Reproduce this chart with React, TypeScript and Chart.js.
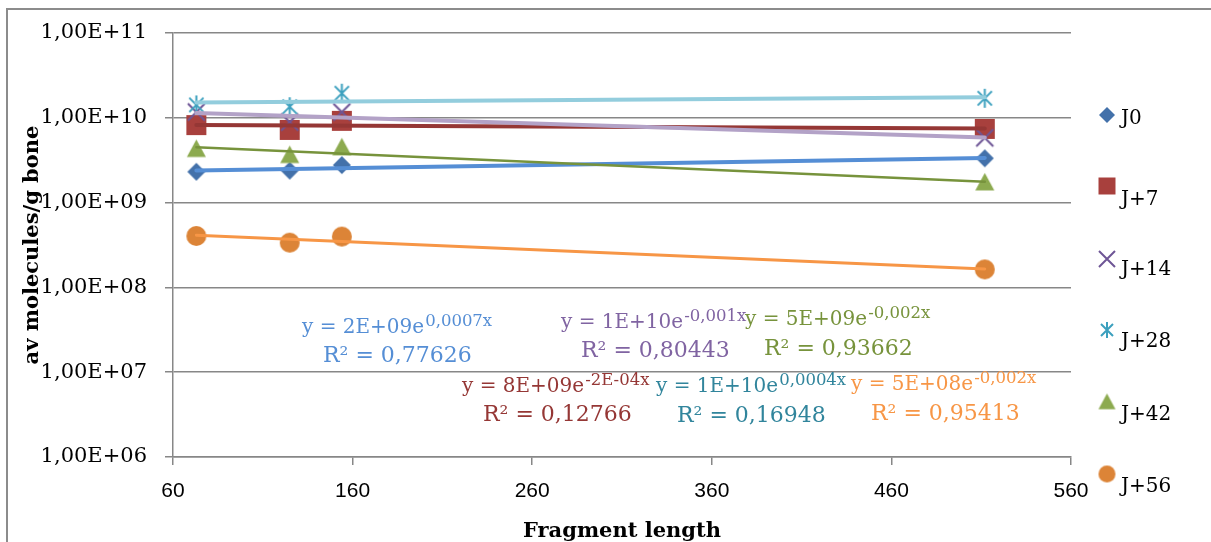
import React, { useEffect, useRef } from 'react';
import { Chart, registerables } from 'chart.js';

Chart.register(...registerables);

// ---------- data ----------
const FRAGMENT_LENGTHS = [73, 125, 154, 512];
const SERIES_NAMES = ['J0', 'J+7', 'J+14', 'J+28', 'J+42', 'J+56'];
const J0_VALUES = [2.31e9, 2.38e9, 2.77e9, 3.33e9];
const J7_VALUES = [8.2e9, 7.2e9, 9.2e9, 7.4e9];
const J14_VALUES = [1.17e10, 8.9e9, 1.17e10, 5.8e9];
const J28_VALUES = [1.42e10, 1.35e10, 1.95e10, 1.7e10];
const J42_VALUES = [4.29e9, 3.64e9, 4.49e9, 1.73e9];
const J56_VALUES = [4.04e8, 3.37e8, 3.97e8, 1.63e8];
const SERIES_VALUES = [J0_VALUES, J7_VALUES, J14_VALUES, J28_VALUES, J42_VALUES, J56_VALUES];

const X_TICKS = [60, 160, 260, 360, 460, 560];
const Y_TICKS = [1e6, 1e7, 1e8, 1e9, 1e10, 1e11];

const EQ_BASE = ['y = 2E+09e', 'y = 8E+09e', 'y = 1E+10e', 'y = 1E+10e', 'y = 5E+09e', 'y = 5E+08e'];
const EQ_EXP = ['0,0007x', '-2E-04x', '-0,001x', '0,0004x', '-0,002x', '-0,002x'];
const R2_TEXT = ['R² = 0,77626', 'R² = 0,12766', 'R² = 0,80443', 'R² = 0,16948', 'R² = 0,93662', 'R² = 0,95413'];

const X_TITLE = 'Fragment length';
const Y_TITLE = 'av molecules/g bone';

// ---------- styles ----------
const MARKER_KIND = ['diamond', 'square', 'cross', 'star', 'triangle', 'circle'];
const MARKER_COLOR = ['#4371AA', '#A8403D', '#6E5596', '#3CA0BE', '#8CAA4F', '#DC8437'];
const MARKER_SIZE = [18, 20, 17, 19, 19, 20];
const LEGEND_MARKER_SIZE = [16, 17, 16, 16, 17, 17];
const TREND_COLOR = ['#558ED5', '#953735', '#B3A2C7', '#93CDDD', '#77933C', '#F79646'];
const TREND_WIDTH = [4, 4, 4, 4, 2.5, 3];
const LABEL_COLOR = ['#558ED5', '#953735', '#8064A2', '#31859C', '#77933C', '#F79646'];
// [eqX, eqBaseline, r2X, r2Baseline] in canvas px
const LABEL_POS = [
  [302, 333, 323, 362],
  [462, 392, 483, 421],
  [561, 328, 581, 357],
  [656, 392, 677, 422],
  [745, 325, 764, 355],
  [851, 390, 871, 420],
];
const LEGEND_MARKER_X = 1107;
const LEGEND_TEXT_X = 1121;
const LEGEND_MARKER_Y = [115, 186, 259, 330, 402, 474];
const LEGEND_TEXT_Y = [124, 205, 275, 347, 420, 492];

const GRID = '#878787';
const SERIF = '"DejaVu Serif", serif';

function makeMarker(kind: string, size: number, color: string): HTMLCanvasElement {
  const pad = 3;
  const dim = Math.ceil(size + pad * 2);
  const c = document.createElement('canvas');
  c.width = dim;
  c.height = dim;
  const ctx = c.getContext('2d')!;
  const m = dim / 2;
  const h = size / 2;
  ctx.fillStyle = color;
  ctx.strokeStyle = color;
  ctx.lineWidth = 2;
  ctx.beginPath();
  if (kind === 'diamond') {
    ctx.moveTo(m, m - h);
    ctx.lineTo(m + h, m);
    ctx.lineTo(m, m + h);
    ctx.lineTo(m - h, m);
    ctx.closePath();
    ctx.fill();
  } else if (kind === 'square') {
    ctx.rect(m - h, m - h, size, size);
    ctx.fill();
  } else if (kind === 'cross') {
    ctx.moveTo(m - h, m - h);
    ctx.lineTo(m + h, m + h);
    ctx.moveTo(m + h, m - h);
    ctx.lineTo(m - h, m + h);
    ctx.stroke();
  } else if (kind === 'star') {
    const d = h * 0.75;
    ctx.moveTo(m - d, m - d);
    ctx.lineTo(m + d, m + d);
    ctx.moveTo(m + d, m - d);
    ctx.lineTo(m - d, m + d);
    ctx.moveTo(m, m - h);
    ctx.lineTo(m, m + h);
    ctx.stroke();
  } else if (kind === 'triangle') {
    ctx.moveTo(m, m - h);
    ctx.lineTo(m + h, m + h * 0.85);
    ctx.lineTo(m - h, m + h * 0.85);
    ctx.closePath();
    ctx.fill();
  } else {
    ctx.arc(m, m, h, 0, Math.PI * 2);
    ctx.fill();
  }
  return c;
}

function expFit(xs: number[], ys: number[]) {
  const n = xs.length;
  const ls = ys.map((v) => Math.log(v));
  const mx = xs.reduce((a, b) => a + b, 0) / n;
  const my = ls.reduce((a, b) => a + b, 0) / n;
  let sxy = 0;
  let sxx = 0;
  for (let i = 0; i < n; i++) {
    sxy += (xs[i] - mx) * (ls[i] - my);
    sxx += (xs[i] - mx) * (xs[i] - mx);
  }
  const b = sxy / sxx;
  const a = Math.exp(my - b * mx);
  return (x: number) => a * Math.exp(b * x);
}

function formatSci(v: number) {
  const e = Math.round(Math.log10(v));
  return '1,00E+' + String(e).padStart(2, '0');
}

export default function App() {
  const ref = useRef<HTMLCanvasElement>(null);

  useEffect(() => {
    const canvas = ref.current!;
    const plotMarkers = MARKER_KIND.map((k, i) => makeMarker(k, MARKER_SIZE[i], MARKER_COLOR[i]));
    const legendMarkers = MARKER_KIND.map((k, i) => makeMarker(k, LEGEND_MARKER_SIZE[i], MARKER_COLOR[i]));

    const scatterSets = SERIES_VALUES.map((vals, i) => ({
      type: 'scatter' as const,
      label: SERIES_NAMES[i],
      data: FRAGMENT_LENGTHS.map((x, j) => ({ x, y: vals[j] })),
      pointStyle: plotMarkers[i],
      pointRadius: 10,
      showLine: false,
      order: 20 - i,
    }));
    const trendSets = SERIES_VALUES.map((vals, i) => {
      const f = expFit(FRAGMENT_LENGTHS, vals);
      const x0 = FRAGMENT_LENGTHS[0];
      const x1 = FRAGMENT_LENGTHS[FRAGMENT_LENGTHS.length - 1];
      return {
        type: 'line' as const,
        label: SERIES_NAMES[i] + ' trend',
        data: [
          { x: x0, y: f(x0) },
          { x: x1, y: f(x1) },
        ],
        borderColor: TREND_COLOR[i],
        borderWidth: TREND_WIDTH[i],
        borderCapStyle: 'round' as const,
        pointRadius: 0,
        fill: false,
        order: 10 - i,
      };
    });

    const overlay = {
      id: 'overlay',
      beforeDraw(chart: any) {
        const ctx = chart.ctx;
        ctx.save();
        ctx.fillStyle = '#fff';
        ctx.fillRect(0, 0, chart.width, chart.height);
        ctx.strokeStyle = '#8c8c8c';
        ctx.lineWidth = 2;
        ctx.beginPath();
        ctx.moveTo(7, chart.height + 2);
        ctx.lineTo(7, 9);
        ctx.lineTo(chart.width + 2, 9);
        ctx.stroke();
        ctx.restore();
      },
      afterDraw(chart: any) {
        const ctx = chart.ctx;
        const area = chart.chartArea;
        ctx.save();
        // equation labels
        ctx.textAlign = 'left';
        ctx.textBaseline = 'alphabetic';
        for (let i = 0; i < SERIES_NAMES.length; i++) {
          const [ex, ey, rx, ry] = LABEL_POS[i];
          ctx.fillStyle = LABEL_COLOR[i];
          ctx.font = '20px ' + SERIF;
          ctx.fillText(EQ_BASE[i], ex, ey);
          const w = ctx.measureText(EQ_BASE[i]).width;
          ctx.font = '16.5px ' + SERIF;
          ctx.fillText(EQ_EXP[i], ex + w + 1, ey - 7);
          ctx.font = '22px ' + SERIF;
          ctx.fillText(R2_TEXT[i], rx, ry);
        }
        // legend
        for (let i = 0; i < SERIES_NAMES.length; i++) {
          const mk = legendMarkers[i];
          ctx.drawImage(mk, LEGEND_MARKER_X - mk.width / 2, LEGEND_MARKER_Y[i] - mk.height / 2);
          ctx.fillStyle = '#000';
          ctx.font = '20px ' + SERIF;
          ctx.fillText(SERIES_NAMES[i], LEGEND_TEXT_X, LEGEND_TEXT_Y[i]);
        }
        // axis titles
        ctx.fillStyle = '#000';
        ctx.font = 'bold 21px ' + SERIF;
        ctx.textAlign = 'center';
        ctx.fillText(X_TITLE, (area.left + area.right) / 2, 537);
        ctx.translate(38, (area.top + area.bottom) / 2);
        ctx.rotate(-Math.PI / 2);
        ctx.fillText(Y_TITLE, 0, 0);
        ctx.restore();
      },
    };

    const chart = new Chart(canvas, {
      type: 'scatter',
      data: { datasets: [...trendSets, ...scatterSets] as any },
      options: {
        animation: false,
        responsive: false,
        devicePixelRatio: 1,
        layout: { padding: { left: 0, top: 33, right: 140, bottom: 0 } },
        plugins: { legend: { display: false }, tooltip: { enabled: false } },
        scales: {
          x: {
            type: 'linear',
            min: 60,
            max: 560,
            afterBuildTicks: (s: any) => {
              s.ticks = X_TICKS.map((v) => ({ value: v }));
            },
            afterFit: (s: any) => {
              s.height = 85;
            },
            ticks: {
              font: { family: '"Liberation Sans", sans-serif', size: 21 },
              color: '#000',
              padding: 14,
              autoSkip: false,
              maxRotation: 0,
            },
            grid: { drawOnChartArea: false, color: GRID, lineWidth: 1.5, tickLength: 8 },
            border: { display: true, color: GRID, width: 1.5 },
          },
          y: {
            type: 'logarithmic',
            min: 1e6,
            max: 1e11,
            afterBuildTicks: (s: any) => {
              s.ticks = Y_TICKS.map((v) => ({ value: v }));
            },
            afterFit: (s: any) => {
              s.width = 173;
            },
            ticks: {
              callback: (v: any) => formatSci(Number(v)),
              font: { family: SERIF, size: 21 },
              color: '#000',
              padding: 18,
              autoSkip: false,
            },
            grid: { color: GRID, lineWidth: 1.5, tickLength: 8 },
            border: { display: true, color: GRID, width: 1.5 },
          },
        },
      },
      plugins: [overlay],
    } as any);

    return () => chart.destroy();
  }, []);

  return (
    <div style={{ position: 'fixed', left: 0, top: 0, width: 1211, height: 542, background: '#fff' }}>
      <canvas ref={ref} width={1211} height={542} style={{ display: 'block', width: 1211, height: 542 }} />
    </div>
  );
}
